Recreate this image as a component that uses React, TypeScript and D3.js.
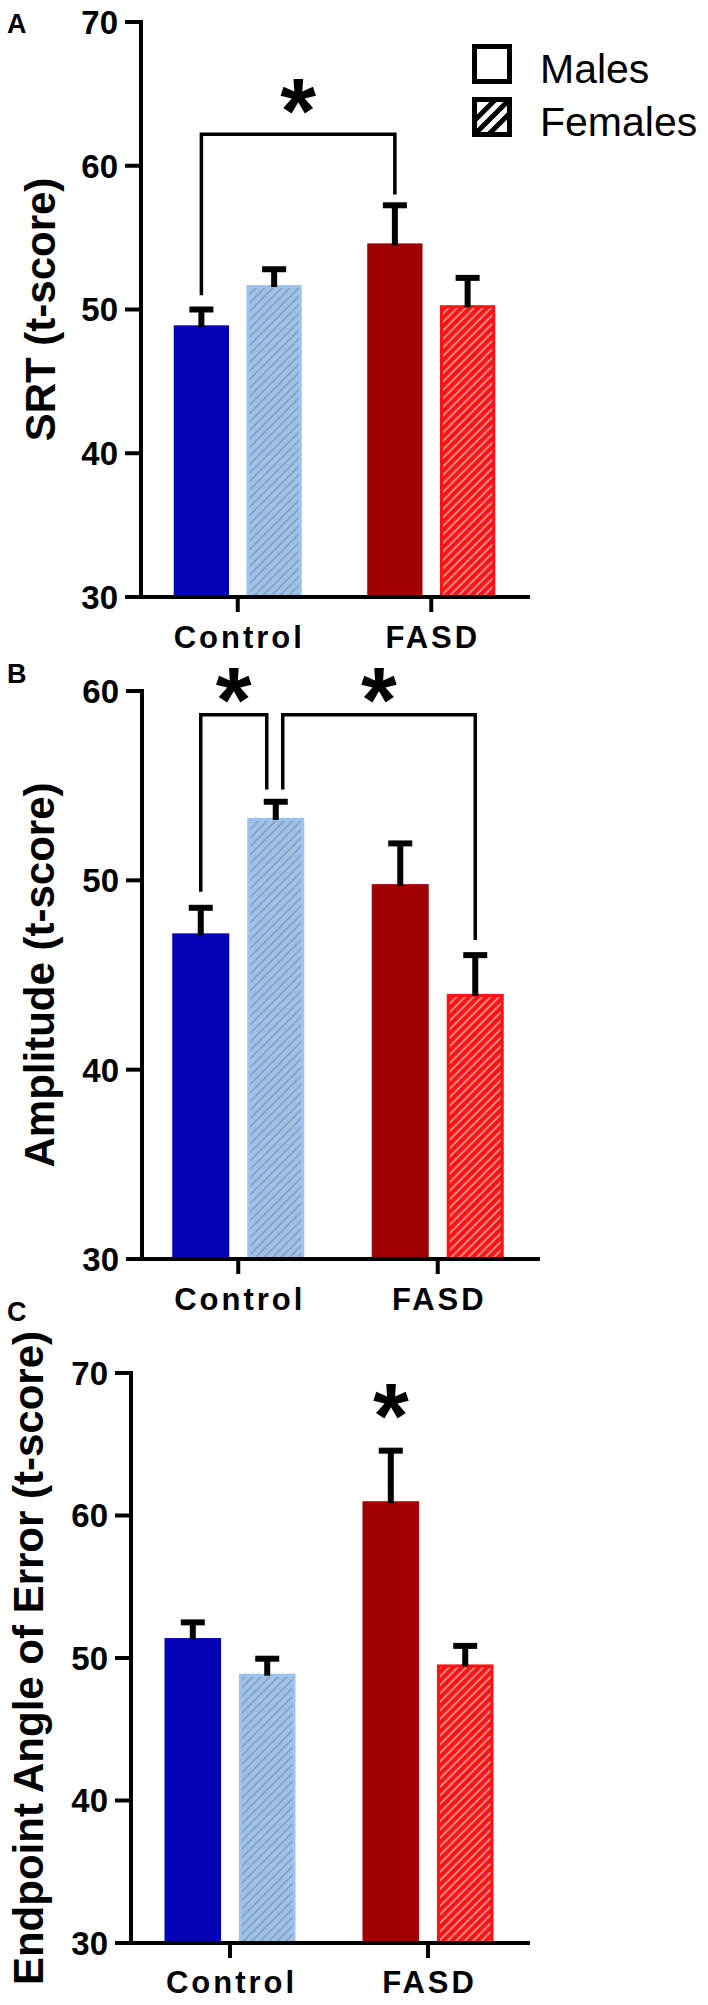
import React from "react";
import * as d3 from "d3";

// ---------- data ----------
const categories = ["Control", "FASD"];
const sexes = ["Males", "Females"];
const panelLetters = ["A", "B", "C"];
const yTitles = ["SRT (t-score)", "Amplitude (t-score)", "Endpoint Angle of Error (t-score)"];

// [group][sex]
const srtMeans = [[48.9, 51.7], [54.6, 50.3]];
const srtErrors = [[1.1, 1.1], [2.65, 1.9]];
const ampMeans = [[47.2, 53.3], [49.8, 44.0]];
const ampErrors = [[1.35, 0.85], [2.15, 2.05]];
const eaeMeans = [[51.4, 48.9], [61.0, 49.55]];
const eaeErrors = [[1.1, 1.05], [3.55, 1.3]];

const yTicksA = [30, 40, 50, 60, 70];
const yTicksB = [30, 40, 50, 60];
const yTicksC = [30, 40, 50, 60, 70];

// significance annotations (values in data units)
const srtBrackets = [{ from: [0, 0], to: [1, 0], top: 62.2, leftEnd: 51.0, rightEnd: 58.0, star: 65.2 }];
const ampBrackets = [
  { from: [0, 0], to: [0, 1], top: 58.75, leftEnd: 49.4, rightEnd: 54.8, star: 60.6 },
  { from: [0, 1], to: [1, 1], top: 58.75, leftEnd: 54.8, rightEnd: 46.85, star: 60.6 },
];
const eaeStars = [{ at: [1, 0], value: 68.4 }];

// ---------- styles / layout ----------
const FONT = "'Liberation Sans', Arial, Helvetica, sans-serif";
const barColors = [
  ["#0303b5", "#9cc3f0"],
  ["#a00000", "#ff1212"],
];
const hatchLine = ["#8c9cab", "#e0a3a0"];

const layouts = [
  { y0: 597, y1: 22, x0: 141, x1: 528, b0: 141, b1: 528, titleX: 55, letterY: 33, labelY: 648 },
  { y0: 1259, y1: 691, x0: 142, x1: 538, b0: 138.5, b1: 537.5, titleX: 54, letterY: 683, labelY: 1310 },
  { y0: 1943, y1: 1373, x0: 131, x1: 528, b0: 131, b1: 527, titleX: 43, letterY: 1321, labelY: 1993 },
];

const panelsData = [
  { means: srtMeans, errors: srtErrors, ticks: yTicksA, brackets: srtBrackets, stars: [] as any[] },
  { means: ampMeans, errors: ampErrors, ticks: yTicksB, brackets: ampBrackets, stars: [] as any[] },
  { means: eaeMeans, errors: eaeErrors, ticks: yTicksC, brackets: [] as any[], stars: eaeStars },
];

const STAR_FS = 92;

function Star({ x, y }: { x: number; y: number }) {
  return (
    <text x={x} y={y + STAR_FS * 0.57} textAnchor="middle" fontFamily={FONT} fontWeight="bold" fontSize={STAR_FS} fill="#000">
      *
    </text>
  );
}

function Panel({ idx }: { idx: number }) {
  const L = layouts[idx];
  const D = panelsData[idx];
  const ticks = D.ticks;
  const y = d3.scaleLinear().domain([ticks[0], ticks[ticks.length - 1]]).range([L.y0, L.y1]);
  const xg = d3.scaleBand<string>().domain(categories).range([L.b0, L.b1]).padding(0);
  const xs = d3.scaleBand<string>().domain(sexes).range([0, xg.bandwidth()]).paddingInner(0.24).paddingOuter(0.45);
  const bw = xs.bandwidth();
  const cx = (g: number, s: number) => (xg(categories[g]) as number) + (xs(sexes[s]) as number) + bw / 2;

  // bracket offsets for the adjacent amplitude brackets sharing one bar
  const bracketX = (b: any, side: "L" | "R", bi: number, arr: any[]) => {
    const [g, s] = side === "L" ? b.from : b.to;
    let x = cx(g, s);
    const shared = arr.some((o, oi) => oi !== bi && (side === "L" ? o.to[0] === g && o.to[1] === s : o.from[0] === g && o.from[1] === s));
    if (shared) x += side === "L" ? 7 : -9;
    return x;
  };

  return (
    <g>
      <text x={7} y={L.letterY} fontFamily={FONT} fontWeight="bold" fontSize={27}>
        {panelLetters[idx]}
      </text>
      <text
        transform={`translate(${L.titleX},${(L.y0 + L.y1) / 2}) rotate(-90)`}
        textAnchor="middle"
        fontFamily={FONT}
        fontWeight="bold"
        fontSize={42}
      >
        {yTitles[idx]}
      </text>

      {/* bars */}
      {categories.map((c, g) =>
        sexes.map((s, si) => {
          const v = D.means[g][si];
          const x = (xg(c) as number) + (xs(s) as number);
          const top = y(v);
          if (si === 0) {
            return <rect key={c + s} x={x} y={top} width={bw} height={L.y0 - top} fill={barColors[g][si]} />;
          }
          return (
            <rect
              key={c + s}
              x={x + 1.5}
              y={top + 1.5}
              width={bw - 3}
              height={L.y0 - top - 1.5}
              fill={`url(#hatch-${g})`}
              stroke={barColors[g][si]}
              strokeWidth={3}
            />
          );
        })
      )}

      {/* error bars */}
      {categories.map((c, g) =>
        sexes.map((s, si) => {
          const v = D.means[g][si];
          const e = D.errors[g][si];
          const x = cx(g, si);
          return (
            <g key={"e" + c + s} stroke="#000" strokeWidth={6}>
              <line x1={x} x2={x} y1={y(v) + 2} y2={y(v + e)} />
              <line x1={x - 12} x2={x + 12} y1={y(v + e)} y2={y(v + e)} />
            </g>
          );
        })
      )}

      {/* axes */}
      <g stroke="#000" strokeWidth={4} strokeLinecap="square" fill="none">
        <line x1={L.x0} x2={L.x0} y1={L.y1} y2={L.y0} />
        <line x1={L.x0} x2={L.x1} y1={L.y0} y2={L.y0} />
        {ticks.map((t) => (
          <line key={t} x1={L.x0 - 14} x2={L.x0} y1={y(t)} y2={y(t)} />
        ))}
        {categories.map((c) => {
          const x = (xg(c) as number) + xg.bandwidth() / 2;
          return <line key={c} x1={x} x2={x} y1={L.y0} y2={L.y0 + 13} />;
        })}
      </g>
      {ticks.map((t) => (
        <text key={t} x={L.x0 - 23} y={y(t)} dy="0.36em" textAnchor="end" fontFamily={FONT} fontWeight="bold" fontSize={33}>
          {t}
        </text>
      ))}
      {categories.map((c) => {
        const x = (xg(c) as number) + xg.bandwidth() / 2;
        return (
          <text key={c} x={x + 1.5} y={L.labelY} textAnchor="middle" fontFamily={FONT} fontWeight="bold" fontSize={31} letterSpacing={3}>
            {c}
          </text>
        );
      })}

      {/* brackets */}
      {D.brackets.map((b: any, bi: number, arr: any[]) => {
        const xl = bracketX(b, "L", bi, arr);
        const xr = bracketX(b, "R", bi, arr);
        const p = d3.path();
        p.moveTo(xl, y(b.leftEnd));
        p.lineTo(xl, y(b.top));
        p.lineTo(xr, y(b.top));
        p.lineTo(xr, y(b.rightEnd));
        return (
          <g key={"b" + bi}>
            <path d={p.toString()} fill="none" stroke="#000" strokeWidth={3.5} />
            <Star x={(xl + xr) / 2} y={y(b.star)} />
          </g>
        );
      })}
      {D.stars.map((s: any, si: number) => (
        <Star key={"s" + si} x={cx(s.at[0], s.at[1])} y={y(s.value)} />
      ))}
    </g>
  );
}

function Legend() {
  const bx = 474.5;
  const size = 35;
  const rows = [46.5, 99.5];
  return (
    <g>
      <defs>
        <clipPath id="legclip">
          <rect x={bx} y={rows[1]} width={size} height={size} />
        </clipPath>
      </defs>
      {sexes.map((s, i) => (
        <g key={s}>
          <rect x={bx} y={rows[i]} width={size} height={size} fill="#fff" stroke="none" />
          {i === 1 && (
            <g clipPath="url(#legclip)" stroke="#000" strokeWidth={5}>
              {[-1, 0, 1].map((k) => (
                <line key={k} x1={bx + k * 14 - 5} y1={rows[1] + size + 5} x2={bx + k * 14 + size + 5} y2={rows[1] - 5} />
              ))}
            </g>
          )}
          <rect x={bx} y={rows[i]} width={size} height={size} fill="none" stroke="#000" strokeWidth={5} />
          <text x={540} y={rows[i] + size + 1} fontFamily={FONT} fontSize={41}>
            {s}
          </text>
        </g>
      ))}
    </g>
  );
}

export default function App() {
  const hw = 8.5;
  return (
    <svg width={708} height={2005} style={{ position: "absolute", left: 0, top: 0, background: "#fff" }}>
      <defs>
        {[0, 1].map((g) => (
          <pattern key={g} id={`hatch-${g}`} patternUnits="userSpaceOnUse" width={hw} height={hw}>
            <rect width={hw} height={hw} fill={barColors[g][1]} />
            <path
              d={`M0,${hw} L${hw},0 M${-hw / 4},${hw / 4} L${hw / 4},${-hw / 4} M${hw * 0.75},${hw * 1.25} L${hw * 1.25},${hw * 0.75}`}
              stroke={hatchLine[g]}
              strokeWidth={1.6}
            />
          </pattern>
        ))}
      </defs>
      <rect width={708} height={2005} fill="#fff" />
      {[0, 1, 2].map((i) => (
        <Panel key={i} idx={i} />
      ))}
      <Legend />
    </svg>
  );
}
